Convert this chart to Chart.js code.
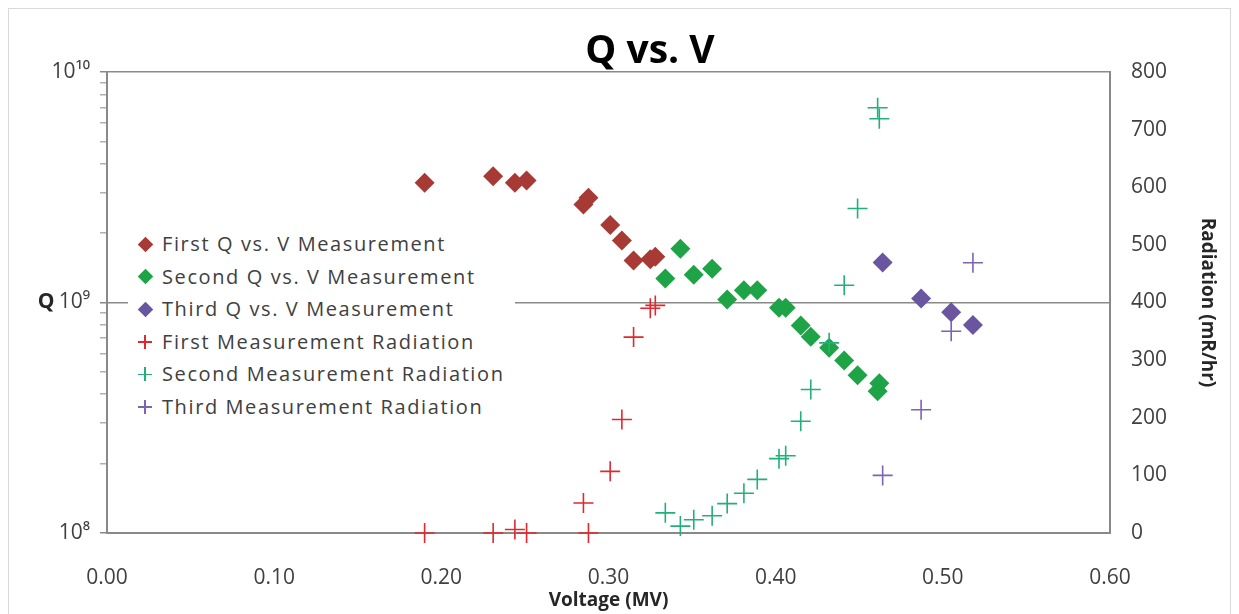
<!DOCTYPE html>
<html>
<head>
<meta charset="utf-8">
<title>Q vs. V</title>
<script src="https://cdn.jsdelivr.net/npm/chart.js@4.4.1/dist/chart.umd.min.js"></script>
<style>
  html, body { margin: 0; padding: 0; background: #fff; }
  #wrap { position: relative; width: 1239px; height: 614px; overflow: hidden; }
  #frame { position: absolute; left: 8px; top: 8px; width: 1223px; height: 650px; border: 1px solid #d9d9d9; box-sizing: border-box; }
  #chart { position: absolute; left: 0; top: 0; }
  #title { position: absolute; left: 450px; width: 400px; top: 28px; text-align: center;
           font: bold 39px/39px 'Open Sans', sans-serif; color: #000; }
  #legend { position: absolute; left: 128px; top: 228px; width: 387px; height: 195px; background: #fff;
            font-family: 'Open Sans', sans-serif; font-size: 20px; letter-spacing: 1.6px; color: #404040; }
  .item { position: relative; height: 32.5px; line-height: 32.5px; padding-left: 34px; white-space: nowrap; }
  .diamond { position: absolute; left: 11.5px; top: 10.75px; width: 11px; height: 11px; transform: rotate(45deg); }
  .cross { position: absolute; left: 10px; top: 9.25px; width: 14px; height: 14px; }
  .cross .h { position: absolute; left: 0; top: 6.25px; width: 14px; height: 1.5px; }
  .cross .v { position: absolute; left: 6.25px; top: 0; width: 1.5px; height: 14px; }
</style>
</head>
<body>
<div id="wrap">
  <div id="frame"></div>
  <canvas id="chart" width="1239" height="614"></canvas>
  <div id="title">Q vs. V</div>
  <div id="legend"></div>
</div>
<script>
// voltage (MV), Q and radiation (mR/hr) for each measurement run
var firstV = [0.190, 0.231, 0.244, 0.251, 0.285, 0.288, 0.301, 0.308, 0.315, 0.325, 0.328];
var firstQ = [3.31e9, 3.53e9, 3.31e9, 3.38e9, 2.66e9, 2.85e9, 2.17e9, 1.86e9, 1.52e9, 1.54e9, 1.58e9];
var firstRad = [0, 0, 6, 0, 52, 0, 107, 197, 340, 390, 395];

var secondV = [0.334, 0.343, 0.351, 0.362, 0.371, 0.381, 0.389, 0.402, 0.406, 0.415, 0.421, 0.432, 0.441, 0.449, 0.461, 0.462];
var secondQ = [1.27e9, 1.71e9, 1.32e9, 1.40e9, 1.03e9, 1.13e9, 1.13e9, 9.49e8, 9.49e8, 7.94e8, 7.10e8, 6.36e8, 5.60e8, 4.84e8, 4.12e8, 4.46e8];
var secondRad = [35, 12, 23, 30, 51, 69, 93, 129, 134, 194, 249, 330, 430, 563, 738, 719];

var thirdV = [0.464, 0.487, 0.505, 0.518];
var thirdQ = [1.49e9, 1.04e9, 9.08e8, 7.98e8];
var thirdRad = [100, 214, 350, 469];

var seriesNames = [
  'First Q vs. V Measurement', 'Second Q vs. V Measurement', 'Third Q vs. V Measurement',
  'First Measurement Radiation', 'Second Measurement Radiation', 'Third Measurement Radiation'
];
var seriesColors = ['#A83A36', '#1FA347', '#6A55A0', '#E0282E', '#22B07A', '#7D63B0'];

var leftTicks = [1e8, 1e9, 1e10];
var rightTicks = [0, 100, 200, 300, 400, 500, 600, 700, 800];

var grey = '#898989';
var textColor = '#404040';
var supDigits = { '0': '\u2070', '1': '\u00B9', '8': '\u2078', '9': '\u2079' };

function pts(xs, ys) {
  return xs.map(function (x, i) { return { x: x, y: ys[i] }; });
}

function isDecade(v) {
  var l = Math.log10(v);
  return Math.abs(l - Math.round(l)) < 1e-9;
}

function sup(n) {
  return String(n).split('').map(function (c) { return supDigits[c]; }).join('');
}

Chart.defaults.font.family = "'Open Sans', sans-serif";
Chart.defaults.color = textColor;

var qLabel = {
  id: 'qLabel',
  afterDraw: function (chart) {
    var ctx = chart.ctx;
    var y = chart.scales.y.getPixelForValue(1e9);
    ctx.save();
    ctx.font = "bold 21px 'Open Sans'";
    ctx.fillStyle = '#262626';
    ctx.textAlign = 'center';
    ctx.textBaseline = 'middle';
    ctx.fillText('Q', 46, y);
    ctx.restore();
  }
};

function qSet(i, xs, ys) {
  return {
    label: seriesNames[i], data: pts(xs, ys), yAxisID: 'y', order: 1, clip: false,
    pointStyle: 'rectRot', pointRadius: 10, pointHoverRadius: 10,
    backgroundColor: seriesColors[i], borderColor: seriesColors[i], borderWidth: 0
  };
}
function radSet(i, xs, ys) {
  return {
    label: seriesNames[i], data: pts(xs, ys), yAxisID: 'y1', order: 0, clip: false,
    pointStyle: 'cross', pointRadius: 10, pointHoverRadius: 10,
    backgroundColor: seriesColors[i], borderColor: seriesColors[i], borderWidth: 1.6
  };
}

new Chart(document.getElementById('chart').getContext('2d'), {
  type: 'scatter',
  data: {
    datasets: [
      qSet(0, firstV, firstQ),
      qSet(1, secondV, secondQ),
      qSet(2, thirdV, thirdQ),
      radSet(3, firstV, firstRad),
      radSet(4, secondV, secondRad),
      radSet(5, thirdV, thirdRad)
    ]
  },
  options: {
    responsive: false,
    animation: false,
    layout: { padding: { top: 72, left: 0, right: 0, bottom: 0 } },
    plugins: { legend: { display: false }, tooltip: { enabled: false } },
    scales: {
      x: {
        type: 'linear', min: 0, max: 0.6,
        ticks: { stepSize: 0.1, padding: 24, color: textColor, font: { size: 21 },
          callback: function (v) { return v.toFixed(2); } },
        grid: { display: false },
        border: { color: grey, width: 2 },
        title: { display: true, text: 'Voltage (MV)', color: '#262626',
          font: { size: 19, weight: 'bold' }, padding: { top: 0, bottom: 2 } },
        afterFit: function (s) { s.height = 81; }
      },
      y: {
        type: 'logarithmic', position: 'left', min: 1e8, max: 1e10,
        afterBuildTicks: function (s) {
          var list = [];
          for (var e = 8; e < 10; e++) {
            for (var m = 1; m < 10; m++) list.push(m * Math.pow(10, e));
          }
          list.push(leftTicks[leftTicks.length - 1]);
          s.ticks = list.map(function (v) { return { value: v }; });
        },
        ticks: { autoSkip: false, padding: 10, color: textColor, font: { size: 21 },
          callback: function (v) {
            if (leftTicks.indexOf(v) < 0 && !isDecade(v)) return '';
            return '10' + sup(Math.round(Math.log10(v)));
          } },
        grid: {
          color: function (c) { return c.tick && isDecade(c.tick.value) ? grey : 'rgba(0,0,0,0)'; },
          tickColor: function (c) { return c.tick && isDecade(c.tick.value) ? grey : '#b0b0b0'; },
          lineWidth: 1.5, tickLength: 7
        },
        border: { color: grey, width: 2 },
        afterFit: function (s) { s.width = 107; }
      },
      y1: {
        type: 'linear', position: 'right', min: rightTicks[0], max: rightTicks[rightTicks.length - 1],
        ticks: { stepSize: 100, padding: 13, color: textColor, font: { size: 21 } },
        grid: { display: false },
        border: { color: grey, width: 2 },
        title: { display: true, text: 'Radiation (mR/hr)', color: '#262626',
          font: { size: 19, weight: 'bold' }, padding: { top: 20, bottom: 0 } },
        afterFit: function (s) { s.width = 129; }
      }
    }
  },
  plugins: [qLabel]
});

// legend drawn inside the plot, like the original
var legend = document.getElementById('legend');
seriesNames.forEach(function (name, i) {
  var row = document.createElement('div');
  row.className = 'item';
  var mark = document.createElement('span');
  if (i < 3) {
    mark.className = 'diamond';
    mark.style.background = seriesColors[i];
  } else {
    mark.className = 'cross';
    mark.innerHTML = '<span class="h"></span><span class="v"></span>';
    mark.querySelector('.h').style.background = seriesColors[i];
    mark.querySelector('.v').style.background = seriesColors[i];
  }
  row.appendChild(mark);
  row.appendChild(document.createTextNode(name));
  legend.appendChild(row);
});
</script>
</body>
</html>
